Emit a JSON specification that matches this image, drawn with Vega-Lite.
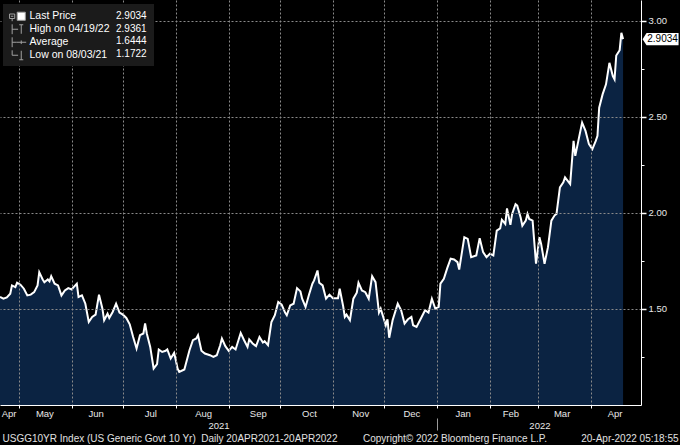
{
  "$schema": "https://vega.github.io/schema/vega-lite/v6.json",
  "width": 641,
  "height": 405,
  "autosize": {"type": "none"},
  "padding": {"left": 0, "top": 0, "right": 39, "bottom": 40},
  "background": "#000000",
  "config": {
    "view": {"stroke": null, "fill": "#000000"},
    "font": "Liberation Sans",
    "axis": {"labelFont": "Liberation Sans", "titleFont": "Liberation Sans"},
    "legend": {"labelFont": "Liberation Sans"}
  },
  "datasets": {
    "yld": [
      {"date":"2021-04-20","value":1.562},{"date":"2021-04-22","value":1.553},{"date":"2021-04-24","value":1.560},{"date":"2021-04-26","value":1.579},{"date":"2021-04-27","value":1.622},{"date":"2021-04-29","value":1.613},{"date":"2021-04-30","value":1.636},{"date":"2021-05-02","value":1.626},{"date":"2021-05-04","value":1.605},{"date":"2021-05-06","value":1.570},{"date":"2021-05-08","value":1.574},{"date":"2021-05-10","value":1.587},{"date":"2021-05-12","value":1.622},{"date":"2021-05-13","value":1.691},{"date":"2021-05-15","value":1.653},{"date":"2021-05-16","value":1.639},{"date":"2021-05-18","value":1.653},{"date":"2021-05-19","value":1.643},{"date":"2021-05-20","value":1.670},{"date":"2021-05-22","value":1.631},{"date":"2021-05-24","value":1.622},{"date":"2021-05-26","value":1.570},{"date":"2021-05-28","value":1.596},{"date":"2021-05-30","value":1.608},
      {"date":"2021-06-01","value":1.601},{"date":"2021-06-02","value":1.612},{"date":"2021-06-04","value":1.631},{"date":"2021-06-05","value":1.562},{"date":"2021-06-07","value":1.570},{"date":"2021-06-09","value":1.527},{"date":"2021-06-11","value":1.432},{"date":"2021-06-13","value":1.458},{"date":"2021-06-15","value":1.470},{"date":"2021-06-17","value":1.574},{"date":"2021-06-19","value":1.501},{"date":"2021-06-20","value":1.441},{"date":"2021-06-22","value":1.475},{"date":"2021-06-23","value":1.453},{"date":"2021-06-25","value":1.484},{"date":"2021-06-27","value":1.527},{"date":"2021-06-29","value":1.481},
      {"date":"2021-07-01","value":1.470},{"date":"2021-07-03","value":1.453},{"date":"2021-07-05","value":1.420},{"date":"2021-07-07","value":1.354},{"date":"2021-07-09","value":1.294},{"date":"2021-07-11","value":1.363},{"date":"2021-07-13","value":1.372},{"date":"2021-07-14","value":1.424},{"date":"2021-07-15","value":1.372},{"date":"2021-07-17","value":1.302},{"date":"2021-07-19","value":1.190},{"date":"2021-07-21","value":1.213},{"date":"2021-07-22","value":1.289},{"date":"2021-07-24","value":1.276},{"date":"2021-07-26","value":1.282},{"date":"2021-07-27","value":1.289},{"date":"2021-07-29","value":1.242},{"date":"2021-07-31","value":1.271},
      {"date":"2021-08-01","value":1.233},{"date":"2021-08-02","value":1.190},{"date":"2021-08-03","value":1.1722},{"date":"2021-08-06","value":1.185},{"date":"2021-08-09","value":1.285},{"date":"2021-08-11","value":1.337},{"date":"2021-08-13","value":1.346},{"date":"2021-08-14","value":1.363},{"date":"2021-08-16","value":1.282},{"date":"2021-08-18","value":1.268},{"date":"2021-08-21","value":1.259},{"date":"2021-08-23","value":1.250},{"date":"2021-08-25","value":1.259},{"date":"2021-08-27","value":1.311},{"date":"2021-08-28","value":1.346},{"date":"2021-08-30","value":1.306},
      {"date":"2021-09-01","value":1.282},{"date":"2021-09-03","value":1.302},{"date":"2021-09-05","value":1.289},{"date":"2021-09-08","value":1.375},{"date":"2021-09-10","value":1.337},{"date":"2021-09-12","value":1.302},{"date":"2021-09-13","value":1.341},{"date":"2021-09-15","value":1.320},{"date":"2021-09-17","value":1.306},{"date":"2021-09-19","value":1.354},{"date":"2021-09-21","value":1.325},{"date":"2021-09-22","value":1.332},{"date":"2021-09-24","value":1.311},{"date":"2021-09-26","value":1.432},{"date":"2021-09-28","value":1.467},{"date":"2021-09-30","value":1.536},
      {"date":"2021-10-02","value":1.522},{"date":"2021-10-04","value":1.481},{"date":"2021-10-05","value":1.467},{"date":"2021-10-07","value":1.518},{"date":"2021-10-09","value":1.527},{"date":"2021-10-11","value":1.608},{"date":"2021-10-13","value":1.591},{"date":"2021-10-14","value":1.553},{"date":"2021-10-16","value":1.510},{"date":"2021-10-18","value":1.574},{"date":"2021-10-20","value":1.631},{"date":"2021-10-21","value":1.648},{"date":"2021-10-23","value":1.700},{"date":"2021-10-24","value":1.636},{"date":"2021-10-26","value":1.622},{"date":"2021-10-28","value":1.553},{"date":"2021-10-30","value":1.574},
      {"date":"2021-11-01","value":1.556},{"date":"2021-11-04","value":1.556},{"date":"2021-11-05","value":1.605},{"date":"2021-11-07","value":1.515},{"date":"2021-11-08","value":1.458},{"date":"2021-11-09","value":1.470},{"date":"2021-11-11","value":1.441},{"date":"2021-11-13","value":1.553},{"date":"2021-11-15","value":1.584},{"date":"2021-11-16","value":1.636},{"date":"2021-11-18","value":1.596},{"date":"2021-11-20","value":1.587},{"date":"2021-11-22","value":1.553},{"date":"2021-11-24","value":1.670},{"date":"2021-11-26","value":1.639},{"date":"2021-11-28","value":1.481},{"date":"2021-11-29","value":1.501},
      {"date":"2021-12-02","value":1.415},{"date":"2021-12-03","value":1.446},{"date":"2021-12-04","value":1.350},{"date":"2021-12-06","value":1.441},{"date":"2021-12-09","value":1.527},{"date":"2021-12-11","value":1.493},{"date":"2021-12-13","value":1.424},{"date":"2021-12-15","value":1.446},{"date":"2021-12-17","value":1.458},{"date":"2021-12-18","value":1.415},{"date":"2021-12-20","value":1.406},{"date":"2021-12-23","value":1.458},{"date":"2021-12-25","value":1.493},{"date":"2021-12-27","value":1.481},{"date":"2021-12-29","value":1.553},{"date":"2021-12-31","value":1.501},
      {"date":"2022-01-02","value":1.510},{"date":"2022-01-03","value":1.631},{"date":"2022-01-05","value":1.657},{"date":"2022-01-07","value":1.712},{"date":"2022-01-09","value":1.761},{"date":"2022-01-11","value":1.757},{"date":"2022-01-13","value":1.743},{"date":"2022-01-14","value":1.705},{"date":"2022-01-17","value":1.873},{"date":"2022-01-19","value":1.864},{"date":"2022-01-21","value":1.769},{"date":"2022-01-24","value":1.778},{"date":"2022-01-26","value":1.868},{"date":"2022-01-28","value":1.795},{"date":"2022-01-30","value":1.769},
      {"date":"2022-02-01","value":1.787},{"date":"2022-02-03","value":1.778},{"date":"2022-02-05","value":1.907},{"date":"2022-02-07","value":1.919},{"date":"2022-02-08","value":1.964},{"date":"2022-02-10","value":1.942},{"date":"2022-02-11","value":2.023},{"date":"2022-02-13","value":1.937},{"date":"2022-02-14","value":1.994},{"date":"2022-02-16","value":2.045},{"date":"2022-02-17","value":2.037},{"date":"2022-02-19","value":1.975},{"date":"2022-02-20","value":1.933},{"date":"2022-02-22","value":1.959},{"date":"2022-02-23","value":1.994},{"date":"2022-02-24","value":1.968},{"date":"2022-02-26","value":1.959},{"date":"2022-02-28","value":1.735},
      {"date":"2022-03-02","value":1.873},{"date":"2022-03-03","value":1.838},{"date":"2022-03-05","value":1.735},{"date":"2022-03-07","value":1.821},{"date":"2022-03-09","value":1.959},{"date":"2022-03-11","value":1.988},{"date":"2022-03-12","value":1.994},{"date":"2022-03-14","value":2.132},{"date":"2022-03-16","value":2.158},{"date":"2022-03-17","value":2.184},{"date":"2022-03-20","value":2.149},{"date":"2022-03-22","value":2.374},{"date":"2022-03-23","value":2.296},{"date":"2022-03-25","value":2.383},{"date":"2022-03-27","value":2.469},{"date":"2022-03-29","value":2.426},{"date":"2022-03-31","value":2.357},
      {"date":"2022-04-02","value":2.331},{"date":"2022-04-04","value":2.374},{"date":"2022-04-05","value":2.400},{"date":"2022-04-06","value":2.547},{"date":"2022-04-08","value":2.616},{"date":"2022-04-10","value":2.668},{"date":"2022-04-12","value":2.780},{"date":"2022-04-14","value":2.711},{"date":"2022-04-15","value":2.694},{"date":"2022-04-16","value":2.818},{"date":"2022-04-18","value":2.846},{"date":"2022-04-19","value":2.9361},{"date":"2022-04-20","value":2.9034}
    ],
    "last": [{"date":"2022-04-20","value":2.9034}],
    "legendrows": [
      {"item":"Last Price","val":"2.9034"},
      {"item":"High on 04/19/22","val":"2.9361"},
      {"item":"Average","val":"1.6444"},
      {"item":"Low on 08/03/21","val":"1.1722"}
    ]
  },
  "resolve": {"axis": {"x": "independent", "y": "independent"}},
  "layer": [
    {
      "data": {"name": "yld"},
      "mark": {"type": "area", "color": "#0b2342", "line": false},
      "encoding": {
        "x": {
          "field": "date", "type": "temporal",
          "scale": {"domain": [{"year":2021,"month":4,"date":20},{"year":2022,"month":4,"date":30,"hours":12}]},
          "axis": {"orient": "bottom", "tickCount": {"interval": "month", "step": 1}, "labels": false, "title": null,
                   "grid": true, "gridColor": "#8a8a8a", "gridDash": [2, 2], "gridWidth": 1,
                   "domain": true, "domainColor": "#ffffff", "domainWidth": 1,
                   "ticks": true, "tickColor": "#ffffff", "tickSize": 3, "zindex": 1}
        },
        "y": {
          "field": "value", "type": "quantitative",
          "scale": {"domain": [1, 3.107], "zero": false, "nice": false},
          "axis": {"orient": "right", "values": [1.5, 2, 2.5, 3], "format": ".2f", "title": null,
                   "labelColor": "#e8e8e8", "labelFontSize": 9.5, "labelPadding": 2,
                   "grid": true, "gridColor": "#8a8a8a", "gridDash": [2, 2], "gridWidth": 1,
                   "domain": true, "domainColor": "#ffffff", "domainWidth": 1,
                   "ticks": true, "tickColor": "#ffffff", "tickSize": 5, "tickWidth": 1.5, "zindex": 1}
        },
        "y2": {"datum": 1}
      }
    },
    {
      "data": {"name": "yld"},
      "mark": {"type": "line", "color": "#ffffff", "strokeWidth": 2},
      "encoding": {
        "x": {
          "field": "date", "type": "temporal",
          "scale": {"domain": [{"year":2021,"month":4,"date":20},{"year":2022,"month":4,"date":30,"hours":12}]},
          "axis": {"orient": "bottom",
                   "values": [{"year":2021,"month":4,"date":25},{"year":2021,"month":5,"date":16},{"year":2021,"month":6,"date":15},{"year":2021,"month":7,"date":17},{"year":2021,"month":8,"date":17},{"year":2021,"month":9,"date":18},{"year":2021,"month":10,"date":18},{"year":2021,"month":11,"date":17},{"year":2021,"month":12,"date":17},{"year":2022,"month":1,"date":16},{"year":2022,"month":2,"date":13},{"year":2022,"month":3,"date":15},{"year":2022,"month":4,"date":15}],
                   "format": "%b", "labelColor": "#e8e8e8", "labelFontSize": 9.5, "labelPadding": 3,
                   "labelFlush": false, "labelOverlap": false,
                   "ticks": false, "domain": false, "grid": false,
                   "title": "USGG10YR Index (US Generic Govt 10 Yr)\u00a0\u00a0Daily 20APR2021-20APR2022",
                   "titleX": 2, "titleY": 36.5, "titleAlign": "left", "titleAnchor": "start", "titleBaseline": "alphabetic",
                   "titleFontWeight": "normal", "titleFontSize": 10, "titleColor": "#e0e0e0", "zindex": 1}
        },
        "y": {
          "field": "value", "type": "quantitative",
          "scale": {"domain": [1, 3.107], "zero": false, "nice": false},
          "axis": {"orient": "right", "values": [1.25, 1.75, 2.25, 2.75], "labels": false, "title": null,
                   "grid": false, "domain": false, "ticks": true, "tickColor": "#ffffff", "tickSize": 3, "zindex": 1}
        }
      }
    },
    {
      "data": {"name": "last"},
      "mark": {"type": "point", "filled": true, "fill": "#ffffff", "opacity": 1, "strokeWidth": 0,
               "size": 1296, "shape": "M-1,0L-0.78,-0.34H1V0.34H-0.78Z", "xOffset": 37.5},
      "encoding": {
        "x": {
          "field": "date", "type": "temporal",
          "scale": {"domain": [{"year":2021,"month":4,"date":20},{"year":2022,"month":4,"date":30,"hours":12}]},
          "axis": {"orient": "bottom",
                   "values": [{"year":2021,"month":8,"date":26},{"year":2022,"month":3,"date":2}],
                   "format": "%Y", "labelColor": "#e8e8e8", "labelFontSize": 9.5, "labelPadding": 15,
                   "labelFlush": false, "ticks": false, "domain": false, "grid": false,
                   "title": "Copyright\u00a9 2022 Bloomberg Finance L.P.",
                   "titleX": 362.5, "titleY": 36.5, "titleAlign": "left", "titleAnchor": "start", "titleBaseline": "alphabetic",
                   "titleFontWeight": "normal", "titleFontSize": 10, "titleColor": "#e0e0e0", "zindex": 1}
        },
        "y": {
          "field": "value", "type": "quantitative",
          "scale": {"domain": [1, 3.107], "zero": false, "nice": false},
          "axis": null
        }
      }
    },
    {
      "data": {"name": "last"},
      "mark": {"type": "text", "dx": 39.5, "color": "#000000", "fontSize": 10, "font": "Liberation Sans", "align": "center", "baseline": "middle"},
      "encoding": {
        "x": {
          "field": "date", "type": "temporal",
          "scale": {"domain": [{"year":2021,"month":4,"date":20},{"year":2022,"month":4,"date":30,"hours":12}]},
          "axis": {"orient": "bottom", "values": [{"year":2022,"month":1,"date":1}], "labels": false,
                   "ticks": true, "tickColor": "#9a9a9a", "tickSize": 12, "tickWidth": 1,
                   "domain": false, "grid": false, "offset": 13,
                   "title": "20-Apr-2022 05:18:55",
                   "titleX": 678, "titleY": 23.5, "titleAlign": "right", "titleAnchor": "end", "titleBaseline": "alphabetic",
                   "titleFontWeight": "normal", "titleFontSize": 10, "titleColor": "#e0e0e0", "zindex": 1}
        },
        "y": {
          "field": "value", "type": "quantitative",
          "scale": {"domain": [1, 3.107], "zero": false, "nice": false},
          "axis": null
        },
        "text": {"field": "value", "type": "quantitative", "format": ".4f"}
      }
    },
    {
      "data": {"name": "legendrows"},
      "mark": {"type": "point", "opacity": 0, "strokeWidth": 1},
      "encoding": {
        "fill": {
          "field": "item", "type": "nominal",
          "scale": {"domain": ["Last Price", "High on 04/19/22", "Average", "Low on 08/03/21"],
                    "range": ["#ffffff", "transparent", "transparent", "transparent"]},
          "legend": {"title": null, "orient": "none", "legendX": 9, "legendY": 4, "padding": 7,
                     "symbolSize": 81, "symbolStrokeWidth": 1, "symbolOpacity": 1,
                     "labelColor": "#ffffff", "labelFontSize": 10.5, "labelOffset": 3, "rowPadding": -2.7, "zindex": 3}
        },
        "stroke": {
          "field": "item", "type": "nominal",
          "scale": {"domain": ["Last Price", "High on 04/19/22", "Average", "Low on 08/03/21"],
                    "range": ["#a0a0a0", "#a0a0a0", "#a0a0a0", "#a0a0a0"]},
          "legend": {"title": null, "orient": "none", "legendX": 9, "legendY": 4, "padding": 7,
                     "symbolSize": 81, "symbolStrokeWidth": 1, "symbolOpacity": 1,
                     "labelColor": "#ffffff", "labelFontSize": 10.5, "labelOffset": 3, "rowPadding": -2.7, "zindex": 3}
        },
        "shape": {
          "field": "item", "type": "nominal",
          "scale": {"domain": ["Last Price", "High on 04/19/22", "Average", "Low on 08/03/21"],
                    "range": [
                      "M-0.9,-0.9H0.9V0.9H-0.9Z M-2.6,-0.5H-1.45 M-2.6,0.5H-1.45 M-2.6,-0.5V0.5 M-1.45,-0.5V0.5 M-2.3,0H-1.75 M-2.02,0.5V1.1",
                      "M-0.45,-1H0.45 M0,-1V1 M-2.02,-1.1V1.1 M-2.02,0H-0.7",
                      "M-1.1,0H1.1 M0,-0.4V0.4 M-2.02,-1.1V1.1 M-2.02,0H-1.1",
                      "M0,-1V1 M-0.45,1H0.45 M-2.02,-1.1V0 M-2.02,0H-0.7"
                    ]},
          "legend": {"title": null, "orient": "none", "legendX": 9, "legendY": 4, "padding": 7,
                     "symbolSize": 81, "symbolStrokeWidth": 1, "symbolOpacity": 1,
                     "labelColor": "#ffffff", "labelFontSize": 10.5, "labelOffset": 3, "rowPadding": -2.7, "zindex": 3}
        },
        "strokeDash": {
          "field": "val", "type": "nominal",
          "scale": {"domain": ["2.9034", "2.9361", "1.6444", "1.1722"], "range": [[1, 0], [1, 0], [1, 0], [1, 0]]},
          "legend": {"title": null, "orient": "none", "legendX": 3, "legendY": 4, "padding": 7,
                     "fillColor": "#1b1b1b", "symbolSize": 4, "symbolOpacity": 0, "symbolStrokeWidth": 0,
                     "labelColor": "#ffffff", "labelFontSize": 10, "labelOffset": 96, "rowPadding": 2.5, "zindex": 2}
        }
      }
    }
  ]
}
